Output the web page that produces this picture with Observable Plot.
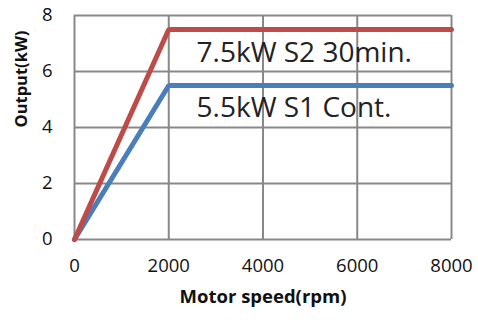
<!DOCTYPE html>
<html>
<head>
<meta charset="utf-8">
<script src="https://cdn.jsdelivr.net/npm/d3@7"></script>
<script src="https://cdn.jsdelivr.net/npm/@observablehq/plot@0.6"></script>
<style>
  html, body { margin: 0; padding: 0; background: #fff; }
  #chart svg { display: block; }
</style>
</head>
<body>
<div id="chart"></div>
<script>
// Data
const speedS2 = [0, 2000, 8000];
const outputS2 = [0, 7.5, 7.5];
const speedS1 = [0, 2000, 8000];
const outputS1 = [0, 5.5, 5.5];
const seriesLabels = ["7.5kW S2 30min.", "5.5kW S1 Cont."];
const xTicks = [0, 2000, 4000, 6000, 8000];
const yTicks = [0, 2, 4, 6, 8];

const s2 = speedS2.map((x, i) => ({x, y: outputS2[i]}));
const s1 = speedS1.map((x, i) => ({x, y: outputS1[i]}));

const grid = "#888888";
const font = "'Open Sans', sans-serif";

const chart = Plot.plot({
  width: 478,
  height: 320,
  marginLeft: 74,
  marginRight: 27,
  marginTop: 15,
  marginBottom: 81,
  style: {fontFamily: font, fontSize: "18px", color: "#111", background: "#fff"},
  x: {domain: [0, 8000]},
  y: {domain: [0, 8]},
  marks: [
    Plot.gridX(xTicks, {stroke: grid, strokeOpacity: 1, strokeWidth: 2}),
    Plot.gridY(yTicks, {stroke: grid, strokeOpacity: 1, strokeWidth: 2}),
    Plot.axisX(xTicks, {tickSize: 0, tickPadding: 19, label: null, fontSize: 18.5, tickFormat: d => String(d)}),
    Plot.axisY(yTicks, {tickSize: 0, tickPadding: 22, label: null, fontSize: 18.5, tickFormat: d => String(d)}),
    Plot.line(s1, {x: "x", y: "y", stroke: "#4a7ebb", strokeWidth: 5, strokeLinejoin: "miter"}),
    Plot.line(s2, {x: "x", y: "y", stroke: "#be4b48", strokeWidth: 5, strokeLinejoin: "miter"}),
    Plot.text([seriesLabels[0]], {x: 2590, y: 6.65, text: d => d, textAnchor: "start", fontSize: 28, fill: "#222"}),
    Plot.text([seriesLabels[1]], {x: 2590, y: 4.7, text: d => d, textAnchor: "start", fontSize: 28, fill: "#222"}),
    Plot.text(["Motor speed(rpm)"], {frameAnchor: "bottom", dy: 63, text: d => d, fontWeight: "bold", fontSize: 18.5, fill: "#111"}),
    Plot.text(["Output(kW)"], {frameAnchor: "left", dx: -53, rotate: -90, text: d => d, fontWeight: "bold", fontSize: 16.5, fill: "#111"})
  ]
});
document.getElementById("chart").appendChild(chart);
</script>
</body>
</html>
